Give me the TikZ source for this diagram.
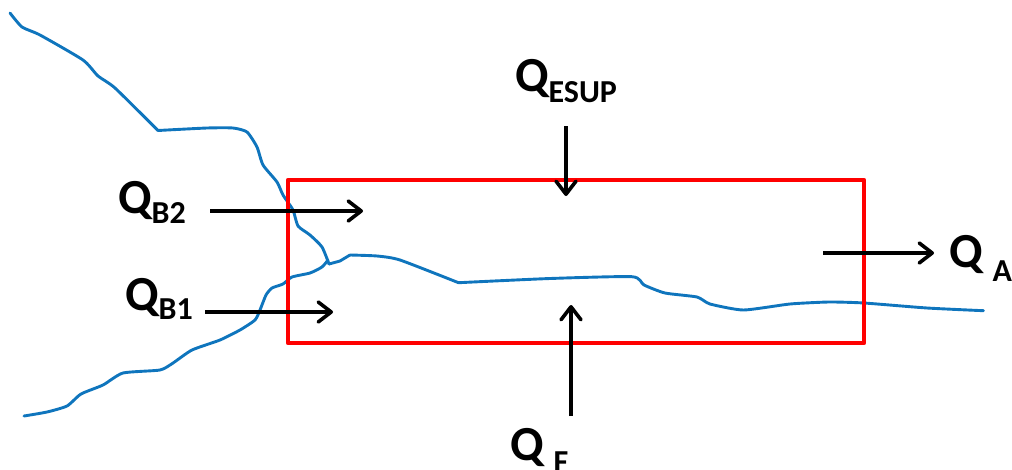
\documentclass[tikz,border=0pt]{standalone}
\usepackage{fontspec}
\setmainfont{Carlito}
\usetikzlibrary{arrows.meta}
\definecolor{rivercol}{HTML}{0F75BD}
\newcommand{\qsym}[2]{{\fontsize{49}{49}\selectfont\bfseries Q}\raisebox{#2}{\fontsize{32}{32}\selectfont\bfseries #1}}
\tikzset{
    flow/.style={line width=3.8pt, black, -{Straight Barb[length=13pt, width=20pt, line width=3.6pt, round]}},
    river/.style={line width=2.9pt, rivercol, line cap=round, line join=round},
    qlabel/.style={anchor=base west, inner sep=0pt, outer sep=0pt, text=black}
}
\begin{document}
\begin{tikzpicture}[x=1pt, y=-1pt]
    \useasboundingbox (0,0) rectangle (1012,469);
    \clip (0,0) rectangle (1012,469);

    % Riviere amont et affluents
    \draw[river] plot[smooth, tension=0.35] coordinates {(10,13) (22,27) (40,35) (83,60) (98,76) (115,88) (158,130.5)};
    \draw[river] plot[smooth, tension=0.35] coordinates {(158,130.5) (207,128) (233,128) (247,132) (257,147) (263,165) (277,182) (283,195) (293,210) (298,226) (310,235) (322,247) (329,264)};
    \draw[river] plot[smooth, tension=0.35] coordinates {(24,416) (47,412) (67,406) (81,394) (103,385) (123,373) (160,370) (173,363) (192,350) (220,340) (240,330) (255,320) (260,310) (266,295) (272,288) (283,284) (292,277) (310,273) (322,267) (328,260)};

    % Riviere aval
    \draw[river] (329,264) -- (340,261) -- (350,255);
    \draw[river] plot[smooth, tension=0.35] coordinates {(350,255) (377,256) (400,260) (458.5,282.7)};
    \draw[river] plot[smooth, tension=0.35] coordinates {(458.5,282.7) (550,278.5) (632,276.7) (644,285) (665,293) (697,297) (710,304) (743.5,310) (790,304) (829,302) (864,303) (927,308) (983.5,310.7)};

    % Volume de controle
    \draw[red, line width=4.2pt, line join=round] (288,180) rectangle (864,343);

    % Debits
    \node[qlabel] (QB2) at (118,213) {\qsym{B2}{-10pt}};
    \node[qlabel] (QB1) at (125,310) {\qsym{B1}{-9pt}};
    \node[qlabel] (QESUP) at (515,91) {\qsym{ESUP}{-11pt}};
    \node[qlabel] (QF) at (510,460) {\qsym{\hspace{10pt}F}{-12pt}};
    \node[qlabel] (QA) at (949,267) {\qsym{\hspace{10pt}A}{-14pt}};

    \coordinate (B2s) at (210,211);
    \coordinate (B2e) at (363,211);
    \coordinate (B1s) at (205,312);
    \coordinate (B1e) at (333,312);
    \coordinate (ESs) at (566,126);
    \coordinate (ESe) at (566,196);
    \coordinate (Fs) at (571,416);
    \coordinate (Fe) at (571,305);
    \coordinate (As) at (823,253);
    \coordinate (Ae) at (934,253);

    \draw[flow] (B2s) -- (B2e);
    \draw[flow] (B1s) -- (B1e);
    \draw[flow] (ESs) -- (ESe);
    \draw[flow] (Fs) -- (Fe);
    \draw[flow] (As) -- (Ae);
\end{tikzpicture}
\end{document}
